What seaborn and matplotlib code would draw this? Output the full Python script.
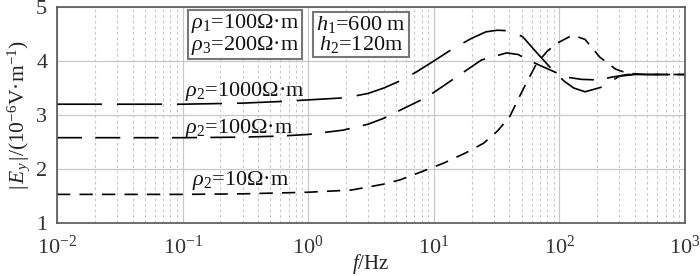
import numpy as np
import pandas as pd
import seaborn as sns
import matplotlib.pyplot as plt
from matplotlib.ticker import LogLocator, NullFormatter

# values
f_1000 = [0.01, 0.1, 0.3, 0.6, 1.0, 2.0, 3.0, 4.0, 5.6, 7.3, 10, 14, 20, 26, 32, 40,
          51, 68, 91, 110, 130, 160, 220, 300, 400, 1000]
e_1000 = [3.20, 3.20, 3.22, 3.25, 3.28, 3.32, 3.40, 3.50, 3.65, 3.80, 4.00, 4.22, 4.42, 4.54,
          4.57, 4.56, 4.45, 4.12, 3.80, 3.62, 3.50, 3.43, 3.52, 3.72, 3.75, 3.75]

f_100 = [0.01, 0.1, 0.3, 0.6, 1.0, 1.9, 3.0, 4.0, 5.4, 8.8, 14, 24, 38, 47, 56, 91,
         115, 150, 200, 260, 350, 1000]
e_100 = [2.58, 2.58, 2.59, 2.61, 2.64, 2.72, 2.83, 2.94, 3.09, 3.33, 3.65, 4.02, 4.15, 4.12,
         4.02, 3.80, 3.70, 3.66, 3.65, 3.70, 3.75, 3.75]

f_10 = [0.01, 0.1, 0.3, 1.0, 2.2, 4.0, 5.4, 8.0, 12, 18, 25, 32, 40, 51, 66, 80, 96,
        127, 160, 210, 280, 350, 500, 1000]
e_10 = [1.53, 1.53, 1.54, 1.57, 1.61, 1.72, 1.80, 1.95, 2.11, 2.30, 2.48, 2.70, 2.96,
        3.46, 3.96, 4.18, 4.33, 4.48, 4.40, 4.07, 3.85, 3.77, 3.75, 3.75]

curve_names = ['r1000', 'r100', 'r10']

df = pd.concat([
    pd.DataFrame({'f': f_1000, 'E': e_1000, 'curve': 'r1000'}),
    pd.DataFrame({'f': f_100, 'E': e_100, 'curve': 'r100'}),
    pd.DataFrame({'f': f_10, 'E': e_10, 'curve': 'r10'}),
])

sns.set_theme(style='white')
plt.rcParams['font.family'] = ['Liberation Serif', 'DejaVu Serif']
plt.rcParams['mathtext.fontset'] = 'custom'
plt.rcParams['mathtext.rm'] = 'Liberation Serif'
plt.rcParams['mathtext.it'] = 'Liberation Serif:italic'
plt.rcParams['mathtext.bf'] = 'Liberation Serif:bold'

fig, ax = plt.subplots(figsize=(7, 2.76), dpi=100)
fig.subplots_adjust(left=0.0814, right=0.9786, top=0.9746, bottom=0.192)

sns.lineplot(data=df, x='f', y='E', style='curve', style_order=curve_names,
             dashes={'r1000': (27, 9), 'r100': (15, 8), 'r10': (8, 5.5)},
             color='black', linewidth=1.2, sort=False, legend=False, ax=ax)

ax.set_xscale('log')
ax.set_xlim(1e-2, 1e3)
ax.set_ylim(1, 5)
ax.set_yticks([1, 2, 3, 4, 5])
ax.xaxis.set_minor_locator(LogLocator(base=10, subs=np.arange(2, 10)))
ax.xaxis.set_minor_formatter(NullFormatter())

ax.grid(which='major', axis='both', color='#c8c8c8', linewidth=0.9, linestyle='-')
ax.grid(which='minor', axis='x', color='#c8c8c8', linewidth=0.8, linestyle=(0, (2.5, 2.5)))
ax.set_axisbelow(True)

for s in ax.spines.values():
    s.set_color('#555555')
    s.set_linewidth(1.2)

ax.tick_params(axis='x', which='major', labelsize=16, length=0, pad=9, colors='#333333')
ax.tick_params(axis='y', which='major', labelsize=16, length=0, pad=7, colors='#333333')
ax.tick_params(axis='x', which='minor', length=0)

ax.set_xlabel(r'$f$/Hz', fontsize=15, labelpad=-5, color='#222222')
ax.set_ylabel(r'$|\,E_y\,|/(10^{-6}$V·m$^{-1})$', fontsize=15.5, labelpad=3, color='#222222')

# curve labels
lab = dict(fontsize=16, ha='left', va='baseline', color='#111111')
ax.text(0.104, 3.35, r'$\rho_2$=1000Ω·m', **lab)
ax.text(0.104, 2.67, r'$\rho_2$=100Ω·m', **lab)
ax.text(0.119, 1.70, r'$\rho_2$=10Ω·m', **lab)

box = dict(boxstyle='square,pad=0.12', facecolor='white', edgecolor='#777777', linewidth=1.5)
ax.text(0.314, 4.49, '$\\rho_1$=100Ω·m\n$\\rho_3$=200Ω·m',
        fontsize=16, ha='center', va='center', linespacing=0.9, bbox=box, color='#111111')
ax.text(2.63, 4.49, '$h_1$=600 m\n$h_2$=120m',
        fontsize=16, ha='center', va='center', linespacing=0.9, bbox=box, color='#111111')

fig.savefig('out.png', dpi=100)
